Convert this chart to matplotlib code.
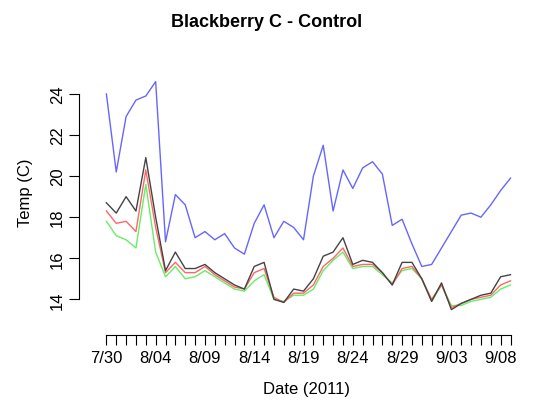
import matplotlib.pyplot as plt
import numpy as np
import pandas as pd

plt.rcParams["font.family"] = ["Liberation Sans", "DejaVu Sans"]

dates = pd.date_range("2011-07-30", "2011-09-09")
blue = [24.0, 20.2, 22.9, 23.7, 23.9, 24.6, 16.8, 19.1, 18.6, 17.0, 17.3, 16.9, 17.2, 16.5, 16.2,
        17.7, 18.6, 17.0, 17.8, 17.5, 16.9, 20.0, 21.5, 18.3, 20.3, 19.4, 20.4, 20.7, 20.1, 17.6,
        17.9, 16.7, 15.6, 15.7, 16.5, 17.3, 18.1, 18.2, 18.0, 18.6, 19.3, 19.9]
black = [18.7, 18.2, 19.0, 18.3, 20.9, 18.0, 15.4, 16.3, 15.5, 15.5, 15.7, 15.3, 15.0, 14.7, 14.5,
         15.6, 15.8, 14.0, 13.85, 14.5, 14.4, 15.0, 16.1, 16.3, 17.0, 15.7, 15.9, 15.8, 15.3, 14.7,
         15.8, 15.8, 15.0, 13.9, 14.8, 13.5, 13.8, 14.0, 14.2, 14.3, 15.1, 15.2]
red = [18.3, 17.7, 17.8, 17.3, 20.3, 17.5, 15.3, 15.8, 15.3, 15.3, 15.6, 15.2, 14.9, 14.6, 14.5,
       15.3, 15.5, 14.1, 13.85, 14.3, 14.3, 14.7, 15.6, 16.0, 16.5, 15.6, 15.7, 15.7, 15.3, 14.7,
       15.5, 15.6, 15.0, 14.0, 14.7, 13.6, 13.8, 14.0, 14.1, 14.2, 14.7, 14.9]
green = [17.8, 17.1, 16.9, 16.5, 19.6, 16.3, 15.1, 15.6, 15.0, 15.1, 15.4, 15.1, 14.8, 14.5, 14.4,
         14.9, 15.2, 14.0, 13.9, 14.2, 14.2, 14.5, 15.4, 15.9, 16.3, 15.5, 15.6, 15.6, 15.2, 14.8,
         15.4, 15.5, 15.0, 13.9, 14.7, 13.7, 13.7, 13.9, 14.0, 14.1, 14.5, 14.7]

fig = plt.figure(figsize=(5.33, 4.14), dpi=100)
ax = fig.add_axes([0.17, 0.215, 0.81, 0.64])
x = np.arange(len(dates))
ax.plot(x, blue, color="#6666ff", lw=1)
ax.plot(x, green, color="#66ee66", lw=1)
ax.plot(x, red, color="#ff6666", lw=1)
ax.plot(x, black, color="#444444", lw=1)

ax.set_xlim(-1.6, len(x) + 0.2)
ax.set_ylim(12.8, 25.7)
for s in ["top", "right"]:
    ax.spines[s].set_visible(False)
ax.spines["left"].set_bounds(14, 24)
ax.spines["bottom"].set_bounds(0, len(x) - 1)
ax.spines["left"].set_position(("outward", 8))
ax.spines["bottom"].set_position(("outward", 8))
ax.set_xticks(x)
ax.set_xticklabels([d.strftime("%-m/%d") if i % 5 == 0 else "" for i, d in enumerate(dates)])
ax.set_yticks(range(14, 25, 2))
ax.tick_params(axis="y", labelrotation=90)
for lab in ax.get_yticklabels():
    lab.set_va("center")
ax.tick_params(length=7, labelsize=12)
ax.set_xlabel("Date (2011)", fontsize=12, labelpad=12)
ax.set_ylabel("Temp (C)", fontsize=12, labelpad=12)
fig.suptitle("Blackberry C - Control", fontsize=13, fontweight="bold", y=0.965)
fig.savefig("out.png")
